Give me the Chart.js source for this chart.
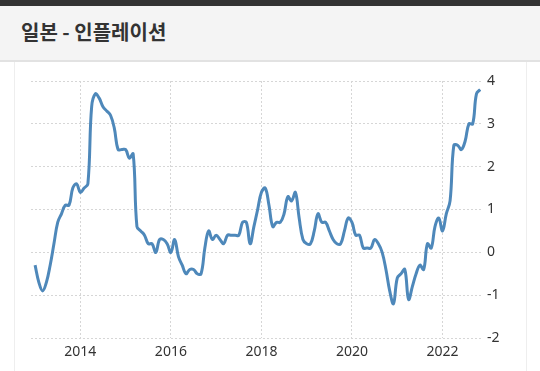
<!DOCTYPE html>
<html>
<head>
<meta charset="utf-8">
<script src="https://cdn.jsdelivr.net/npm/chart.js@4"></script>
<style>
  html, body { margin: 0; padding: 0; background: #fff; }
  body { width: 540px; height: 371px; position: relative; overflow: hidden; font-family: "Noto Sans", sans-serif; }
  #topbar { position: absolute; left: 0; top: 0; width: 540px; height: 6px; background: #333; }
  #header { position: absolute; left: 0; top: 6px; width: 540px; height: 54px; background: #f4f4f4; border-bottom: 2px solid #e2e2e2; }
  #header h1 { margin: 0; position: absolute; left: 21px; top: 11px; font: 700 20px "Noto Sans CJK KR", sans-serif; color: #333; }
  #panel { position: absolute; left: 14px; top: 62px; width: 511px; height: 309px; border-left: 1px solid #eee; border-right: 1px solid #eee; }
  #chart { position: absolute; left: 0; top: 0; }
</style>
</head>
<body>
<div id="topbar"></div>
<div id="header"><h1>일본 - 인플레이션</h1></div>
<div id="panel"><canvas id="chart" width="512" height="309"></canvas></div>
<script>
// monthly CPI YoY, Jan..Dec of each year (2022 ends in Nov)
const startYear = 2013;
const cpi2013 = [-0.3, -0.7, -0.9, -0.7, -0.3, 0.2, 0.7, 0.9, 1.1, 1.1, 1.5, 1.6];
const cpi2014 = [1.4, 1.5, 1.6, 3.4, 3.7, 3.6, 3.4, 3.3, 3.2, 2.9, 2.4, 2.4];
const cpi2015 = [2.4, 2.2, 2.3, 0.6, 0.5, 0.4, 0.2, 0.2, 0.0, 0.3, 0.3, 0.2];
const cpi2016 = [0.0, 0.3, -0.1, -0.3, -0.5, -0.4, -0.4, -0.5, -0.5, 0.1, 0.5, 0.3];
const cpi2017 = [0.4, 0.3, 0.2, 0.4, 0.4, 0.4, 0.4, 0.7, 0.7, 0.2, 0.6, 1.0];
const cpi2018 = [1.4, 1.5, 1.1, 0.6, 0.7, 0.7, 0.9, 1.3, 1.2, 1.4, 0.8, 0.3];
const cpi2019 = [0.2, 0.2, 0.5, 0.9, 0.7, 0.7, 0.5, 0.3, 0.2, 0.2, 0.5, 0.8];
const cpi2020 = [0.7, 0.4, 0.4, 0.1, 0.1, 0.1, 0.3, 0.2, 0.0, -0.4, -0.9, -1.2];
const cpi2021 = [-0.6, -0.5, -0.4, -1.1, -0.8, -0.5, -0.3, -0.4, 0.2, 0.1, 0.6, 0.8];
const cpi2022 = [0.5, 0.9, 1.2, 2.5, 2.5, 2.4, 2.6, 3.0, 3.0, 3.7, 3.8];

const years = [cpi2013, cpi2014, cpi2015, cpi2016, cpi2017, cpi2018, cpi2019, cpi2020, cpi2021, cpi2022];
const xTicks = [2014, 2016, 2018, 2020, 2022];
const yTicks = [-2, -1, 0, 1, 2, 3, 4];

const points = [];
years.forEach((arr, yi) => {
  arr.forEach((v, m) => points.push({ x: startYear + yi + m / 12, y: v }));
});

const gridStyle = { color: '#d6d6d6', lineWidth: 1, drawTicks: false };
const tickFont = { family: '"Noto Sans", sans-serif', size: 14 };

new Chart(document.getElementById('chart'), {
  type: 'line',
  data: {
    datasets: [{
      data: points,
      borderColor: '#4e88ba',
      borderWidth: 3,
      pointRadius: 0,
      tension: 0.4,
      fill: false
    }]
  },
  options: {
    responsive: false,
    animation: false,
    layout: { padding: { left: 16, top: 19, right: 0, bottom: 0 } },
    plugins: { legend: { display: false }, tooltip: { enabled: false } },
    scales: {
      x: {
        type: 'linear',
        min: 2012.91,
        max: 2022.85,
        afterBuildTicks: axis => { axis.ticks = xTicks.map(v => ({ value: v })); },
        afterFit: axis => { axis.height = 33; },
        grid: gridStyle,
        border: { display: false, dash: [2, 2] },
        ticks: { color: '#333', font: tickFont, padding: 6, maxRotation: 0, callback: v => String(v) }
      },
      y: {
        position: 'right',
        min: -2,
        max: 4,
        afterBuildTicks: axis => { axis.ticks = yTicks.map(v => ({ value: v })); },
        afterFit: axis => { axis.width = 46; },
        grid: gridStyle,
        border: { display: false, dash: [2, 2] },
        ticks: { color: '#333', font: tickFont, padding: 6 }
      }
    }
  }
});
</script>
</body>
</html>
